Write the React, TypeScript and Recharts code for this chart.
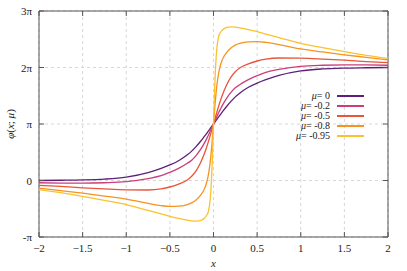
import {
  CartesianGrid,
  Label,
  Legend,
  Line,
  LineChart,
  ReferenceArea,
  XAxis,
  YAxis,
} from 'recharts';

const X = [
  -2, -1.75, -1.5, -1.25, -1, -0.75, -0.6, -0.5, -0.4, -0.3, -0.25, -0.2, -0.15, -0.1, -0.08, -0.06,
  -0.05, -0.04, -0.03, -0.02, -0.01, 0, 0.01, 0.02, 0.03, 0.04, 0.05, 0.06, 0.08, 0.1, 0.15, 0.2, 0.25,
  0.3, 0.4, 0.5, 0.6, 0.75, 1, 1.25, 1.5, 1.75, 2,
];

// phase values in units of pi
const MU_0 = [
  0, 0.004, 0.01, 0.025, 0.06, 0.14, 0.215, 0.275, 0.35, 0.455, 0.52, 0.6, 0.69, 0.79, 0.83, 0.872,
  0.893, 0.915, 0.937, 0.958, 0.979, 1, 1.021, 1.042, 1.063, 1.085, 1.107, 1.128, 1.17, 1.21, 1.31,
  1.4, 1.48, 1.545, 1.65, 1.725, 1.785, 1.86, 1.94, 1.975, 1.99, 1.996, 2,
];
const MU_02 = [
  -0.04, -0.045, -0.048, -0.04, -0.02, 0.035, 0.085, 0.145, 0.215, 0.305, 0.36, 0.44, 0.545, 0.675,
  0.735, 0.797, 0.83, 0.863, 0.897, 0.931, 0.965, 1, 1.035, 1.069, 1.103, 1.137, 1.17, 1.203, 1.265,
  1.325, 1.455, 1.56, 1.64, 1.695, 1.785, 1.855, 1.915, 1.965, 2.02, 2.04, 2.048, 2.045, 2.04,
];
const MU_05 = [
  -0.085, -0.105, -0.13, -0.15, -0.165, -0.168, -0.148, -0.115, -0.065, 0.01, 0.075, 0.17, 0.31,
  0.495, 0.585, 0.68, 0.73, 0.783, 0.836, 0.89, 0.945, 1, 1.055, 1.11, 1.164, 1.217, 1.27, 1.32,
  1.415, 1.505, 1.69, 1.83, 1.925, 1.99, 2.065, 2.115, 2.148, 2.168, 2.165, 2.15, 2.13, 2.105, 2.085,
];
const MU_08 = [
  -0.135, -0.18, -0.225, -0.275, -0.33, -0.405, -0.445, -0.458, -0.455, -0.425, -0.395, -0.345,
  -0.265, -0.135, -0.045, 0.09, 0.185, 0.3, 0.44, 0.61, 0.8, 1, 1.2, 1.39, 1.56, 1.7, 1.815, 1.91,
  2.045, 2.135, 2.265, 2.345, 2.395, 2.425, 2.455, 2.458, 2.445, 2.405, 2.33, 2.275, 2.225, 2.18, 2.135,
];
const MU_095 = [
  -0.16, -0.215, -0.28, -0.35, -0.425, -0.53, -0.592, -0.633, -0.672, -0.703, -0.715, -0.72, -0.712,
  -0.66, -0.62, -0.555, -0.48, -0.36, -0.17, 0.12, 0.52, 1, 1.48, 1.88, 2.17, 2.36, 2.48, 2.555,
  2.62, 2.66, 2.712, 2.72, 2.715, 2.703, 2.672, 2.633, 2.592, 2.53, 2.425, 2.35, 2.28, 2.215, 2.16,
];

const X_TICKS = [-2, -1.5, -1, -0.5, 0, 0.5, 1, 1.5, 2];
const Y_TICKS = [-1, 0, 1, 2, 3];
const Y_LABELS = ['-π', '0', 'π', '2π', '3π'];

const SERIES = [
  { key: 'm0', name: '0', values: MU_0, color: '#5e1f78' },
  { key: 'm02', name: '-0.2', values: MU_02, color: '#cc3d7a' },
  { key: 'm05', name: '-0.5', values: MU_05, color: '#e8553a' },
  { key: 'm08', name: '-0.8', values: MU_08, color: '#f7931e' },
  { key: 'm095', name: '-0.95', values: MU_095, color: '#f9c22e' },
];

const data = X.map((x, i) => {
  const row: any = { x };
  SERIES.forEach((s) => (row[s.key] = s.values[i]));
  return row;
});

const FONT = '"Liberation Serif", serif';
const TOP = 11;
const BOTTOM = 237;
const LEFT = 39;
const RIGHT = 388;

const XTick = (props: any) => {
  const { x, payload } = props;
  const v = payload.value;
  const txt = v < 0 ? '\u2212' + Math.abs(v) : String(v);
  return (
    <g>
      <line x1={x} x2={x} y1={BOTTOM} y2={BOTTOM - 5} stroke="#555" />
      <line x1={x} x2={x} y1={TOP} y2={TOP + 5} stroke="#555" />
      <text x={x} y={BOTTOM + 15} textAnchor="middle" fontFamily={FONT} fontSize={11} fill="#222">
        {txt}
      </text>
    </g>
  );
};

const YTick = (props: any) => {
  const { y, payload } = props;
  const idx = Y_TICKS.indexOf(payload.value);
  return (
    <g>
      <line x1={LEFT} x2={LEFT + 5} y1={y} y2={y} stroke="#555" />
      <line x1={RIGHT} x2={RIGHT - 5} y1={y} y2={y} stroke="#555" />
      <text x={LEFT - 7} y={y + 4} textAnchor="end" fontFamily={FONT} fontSize={11} fill="#222">
        {Y_LABELS[idx]}
      </text>
    </g>
  );
};

const YTitle = (props: any) => {
  const { viewBox } = props;
  const cx = viewBox.x + 10;
  const cy = viewBox.y + viewBox.height / 2;
  return (
    <text
      x={cx}
      y={cy}
      transform={`rotate(-90 ${cx} ${cy})`}
      textAnchor="middle"
      dominantBaseline="central"
      fontFamily={FONT}
      fontSize={11}
      fill="#222"
    >
      <tspan fontStyle="italic">φ</tspan>(<tspan fontStyle="italic">x</tspan>;{' '}
      <tspan fontStyle="italic">μ</tspan>)
    </text>
  );
};

const XTitle = (props: any) => {
  const { viewBox } = props;
  return (
    <text
      x={viewBox.x + viewBox.width / 2}
      y={viewBox.y + 30}
      textAnchor="middle"
      fontFamily={FONT}
      fontStyle="italic"
      fontSize={11}
      fill="#222"
    >
      x
    </text>
  );
};

const KeyBox = () => {
  return (
    <div style={{ fontFamily: FONT, fontSize: 10, color: '#222' }}>
      {SERIES.map((s) => (
        <div key={s.key} style={{ display: 'flex', alignItems: 'center', height: 10 }}>
          <div style={{ width: 50, textAlign: 'right', lineHeight: '10px', height: 10 }}>
            <i>μ</i>= {s.name}
          </div>
          <div style={{ width: 27, height: 1.5, marginLeft: 7, backgroundColor: s.color }}></div>
        </div>
      ))}
    </div>
  );
};

export default function App() {
  return (
    <div>
      <style>{'body{margin:0}'}</style>
      <LineChart width={407} height={271} data={data} margin={{ top: TOP, right: 19, bottom: 0, left: 0 }}>
        <CartesianGrid
          stroke="#d6d6d6"
          strokeDasharray="3 3"
          verticalValues={X_TICKS}
          horizontalValues={Y_TICKS}
        />
        <XAxis
          dataKey="x"
          type="number"
          domain={[-2, 2]}
          ticks={X_TICKS}
          height={34}
          axisLine={false}
          tickLine={false}
          tick={<XTick />}
          interval={0}
        >
          <Label content={<XTitle />} />
        </XAxis>
        <YAxis
          type="number"
          domain={[-1, 3]}
          ticks={Y_TICKS}
          width={39}
          axisLine={false}
          tickLine={false}
          tick={<YTick />}
          interval={0}
        >
          <Label content={<YTitle />} />
        </YAxis>
        <ReferenceArea x1={-2} x2={2} y1={-1} y2={3} fill="none" stroke="#555" strokeWidth={1} />
        {SERIES.map((s) => (
          <Line
            key={s.key}
            dataKey={s.key}
            type="monotone"
            stroke={s.color}
            strokeWidth={1.3}
            dot={false}
            isAnimationActive={false}
          />
        ))}
        <Legend
          layout="horizontal"
          verticalAlign="middle"
          align="center"
          content={<KeyBox />}
          wrapperStyle={{ left: 280, top: 91, width: 86 }}
        />
      </LineChart>
    </div>
  );
}
